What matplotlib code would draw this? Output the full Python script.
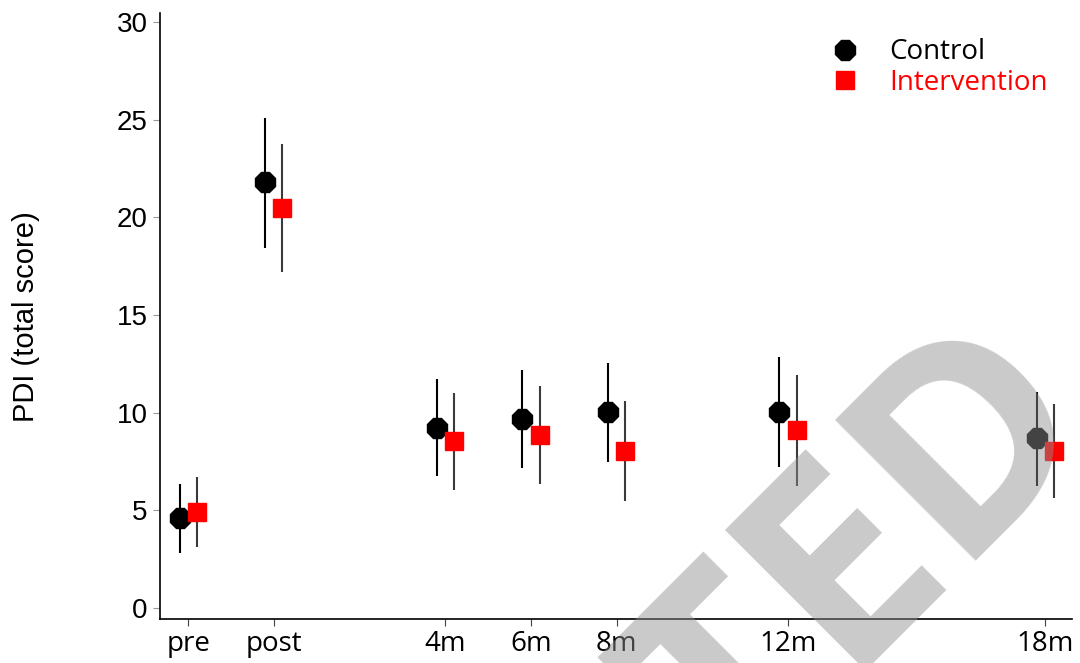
import matplotlib
matplotlib.use("Agg")
import matplotlib.pyplot as plt
from matplotlib.lines import Line2D

# ======================
# Data
# ======================
timepoints = ["pre", "post", "4m", "6m", "8m", "12m", "18m"]
time_pos = [0, 1, 3, 4, 5, 7, 10]

control_mean = [4.59, 21.82, 9.23, 9.69, 10.02, 10.05, 8.69]
control_low = [2.81, 18.44, 6.76, 7.19, 7.49, 7.24, 6.26]
control_high = [6.34, 25.10, 11.71, 12.19, 12.56, 12.84, 11.08]

interv_mean = [4.89, 20.48, 8.53, 8.84, 8.06, 9.10, 8.02]
interv_low = [3.10, 17.19, 6.03, 6.33, 5.50, 6.25, 5.62]
interv_high = [6.69, 23.77, 11.02, 11.35, 10.60, 11.93, 10.45]

OFFSET = 0.1

# ======================
# Figure
# ======================
fig = plt.figure(figsize=(10.8, 6.63), dpi=100)
ax = fig.add_axes([0.1481, 0.0659, 0.9923 - 0.1481, 0.9808 - 0.0659])

xc = [p - OFFSET for p in time_pos]
xi = [p + OFFSET for p in time_pos]

ax.vlines(xc, control_low, control_high, color="black", lw=1.5, zorder=2)
ax.vlines(xi, interv_low, interv_high, color="#3a3a3a", lw=1.5, zorder=2)
ax.plot(xc, control_mean, ls="none", marker="8", ms=15, color="black", zorder=3)
ax.plot(xi, interv_mean, ls="none", marker="s", ms=13, color="red", zorder=3)

ax.set_xlim(-0.33, 10.31)
ax.set_ylim(-0.58, 30.48)
ax.set_yticks([0, 5, 10, 15, 20, 25, 30])
ax.set_xticks(time_pos)
ax.set_xticklabels(timepoints, family="Open Sans", fontsize=20)
for lab in ax.get_yticklabels():
    lab.set_family("Liberation Sans")
    lab.set_fontsize(20)
ax.tick_params(axis="y", length=5, width=0.8, color="#999999", pad=4)
ax.tick_params(axis="x", length=5, width=0.8, color="#444444", pad=3)

for side in ["top", "right"]:
    ax.spines[side].set_visible(False)
for side in ["left", "bottom"]:
    ax.spines[side].set_linewidth(1.2)

fig.text(0.024, 0.523, "PDI (total score)", rotation=90, ha="center", va="center",
         family="Liberation Sans", fontsize=21)

# legend
handles = [
    Line2D([], [], ls="none", marker="8", ms=15, color="black"),
    Line2D([], [], ls="none", marker="s", ms=13, color="red"),
]
leg = ax.legend(handles, ["Control", "Intervention"], loc="upper left",
                bbox_to_anchor=(0.7335, 0.98), bbox_transform=fig.transFigure,
                frameon=False, handletextpad=0.6, labelspacing=0.1,
                prop={"family": "Open Sans", "size": 20},
                labelcolor=["black", "red"])

# watermark overlay
fig.text(1097 / 1080, 1 - 415 / 663, "RETRACTED", rotation=45, rotation_mode="anchor",
         ha="right", va="baseline", fontsize=200, family="Open Sans", weight="bold",
         color="#8f8f8f", alpha=0.475, zorder=10)

fig.savefig("out.png", dpi=100)
